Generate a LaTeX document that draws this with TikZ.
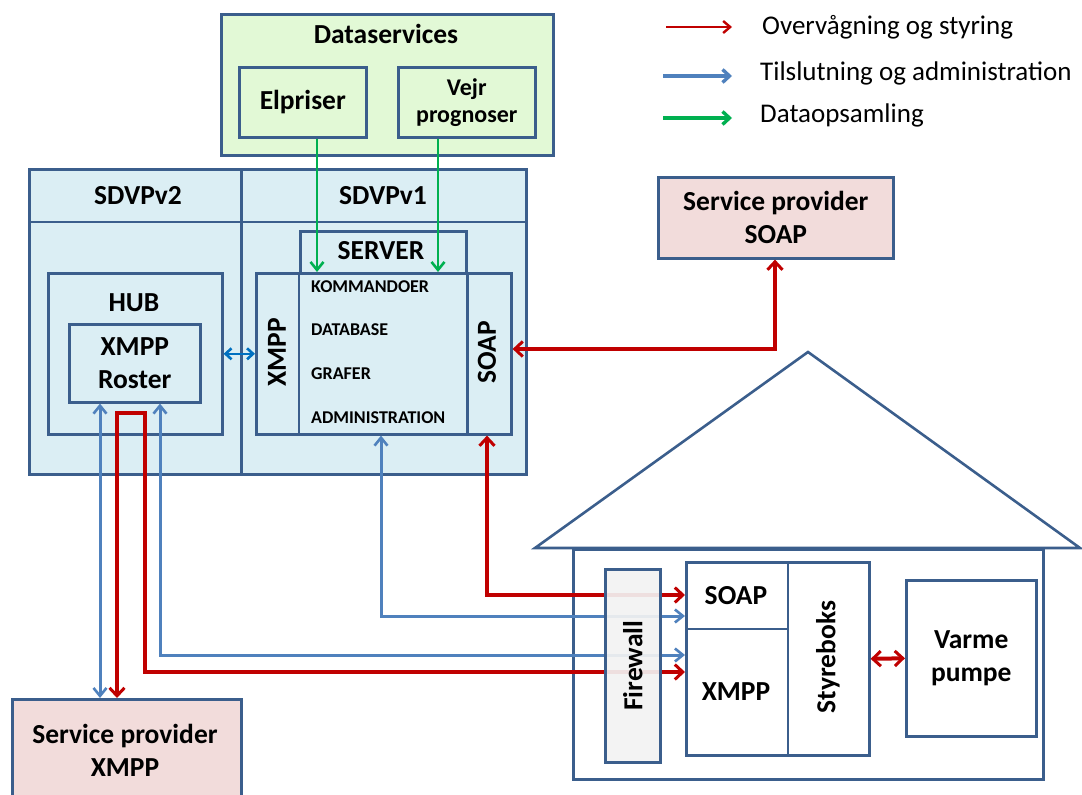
\documentclass[tikz,border=0pt]{standalone}
\usepackage{fontspec}
\setmainfont{Carlito}
\usetikzlibrary{arrows.meta,calc}
\definecolor{bordc}{RGB}{59,94,140}
\definecolor{lblue}{RGB}{219,238,244}
\definecolor{lgreen}{RGB}{226,249,214}
\definecolor{lpink}{RGB}{242,220,219}
\definecolor{lgray}{RGB}{242,242,242}
\definecolor{cred}{RGB}{192,0,0}
\definecolor{cblue}{RGB}{79,129,189}
\definecolor{cdblue}{RGB}{0,112,192}
\definecolor{cgreen}{RGB}{0,176,80}
\tikzset{
  box/.style={draw=bordc, line width=2.6pt, inner sep=0pt, anchor=north west},
  bline/.style={draw=bordc, line width=2.6pt},
  hd/.style={font=\bfseries\fontsize{27.5}{33}\selectfont, align=center, inner sep=0pt},
  item/.style={font=\bfseries\fontsize{18}{20}\selectfont, anchor=west, inner sep=0pt},
  leg/.style={font=\fontsize{27}{30}\selectfont, anchor=west, inner sep=0pt},
  tipR/.tip={Straight Barb[length=8pt,width=15pt,line width=3pt]},
  tipB/.tip={Straight Barb[length=8pt,width=13pt,line width=2.6pt]},
  redc/.style={draw=cred, line width=4pt, tipR-tipR},
  bluec/.style={draw=cblue, line width=3pt, tipB-tipB},
  greenc/.style={draw=cgreen, line width=2.8pt, -tipB},
}
\begin{document}
\begin{tikzpicture}[x=1pt,y=-1pt]
\useasboundingbox (0,0) rectangle (1082,795);
% Dataservices
\node[box, fill=lgreen, minimum width=332pt, minimum height=141pt] (ds) at (220,13) {};
\node[hd] (dst) at (386,34) {Dataservices};
\node[box, minimum width=127pt, minimum height=70pt] (elp) at (238,66) {};
\node[hd] at (elp.center) {Elpriser};
\node[box, minimum width=137pt, minimum height=70pt] (vejr) at (397,66) {};
\node[hd, font=\bfseries\fontsize{24}{27}\selectfont] at (vejr.center) {Vejr\\prognoser};
% SDVP
\node[box, fill=lblue, minimum width=212pt, minimum height=305pt] (v2) at (28,168) {};
\node[box, fill=lblue, minimum width=285pt, minimum height=305pt] (v1) at (240,168) {};
\draw[bline] (v2.north west) ++(0,54) -- ++(497,0);
\node[hd] (v2t) at (138,196) {SDVPv2};
\node[hd] (v1t) at (383,196) {SDVPv1};
\node[box, minimum width=166pt, minimum height=42pt] (server) at (299,230) {};
\node[hd] at (381,251) {SERVER};
\node[box, minimum width=255pt, minimum height=161pt] (main) at (255,272) {};
\draw[bline] (server.south west) -- (server.south west |- main.south);
\draw[bline] (server.south east) -- (server.south east |- main.south);
\node[hd, rotate=90] (xc) at (277,352) {XMPP};
\node[hd, rotate=90] (sc) at (487,352) {SOAP};
\node[item] (k1) at (311,287) {KOMMANDOER};
\node[item] (k2) at (311,330) {DATABASE};
\node[item] (k3) at (311,374) {GRAFER};
\node[item] (k4) at (311,418) {ADMINISTRATION};
\node[box, minimum width=174pt, minimum height=161pt] (hub) at (47,272) {};
\node[hd] at (134,303) {HUB};
\node[box, minimum width=131pt, minimum height=78pt] (roster) at (68,323) {};
\node[hd] at (roster.center) {XMPP\\Roster};
% service providers
\node[box, fill=lpink, minimum width=235pt, minimum height=81pt] (spsoap) at (657,176) {};
\node[hd] at (spsoap.center) {Service provider\\SOAP};
\node[box, fill=lpink, minimum width=229pt, minimum height=110pt] (spxmpp) at (11,698) {};
\node[hd] at (125,750) {Service provider\\XMPP};
% house
\draw[bline, line join=miter] (535,548) -- (808,352) -- (1080,548) -- cycle;
\node[box, fill=white, minimum width=470pt, minimum height=230pt] (house) at (572,548) {};
\node[box, minimum width=183pt, minimum height=193pt] (styr) at (685,561) {};
\draw[bline] (788,561) -- (788,754);
\draw[bline] (685,629) -- (788,629);
\node[hd] at (736,596) {SOAP};
\node[hd] at (736,692) {XMPP};
\node[hd, rotate=90] at (828,657) {Styreboks};
\node[box, minimum width=130pt, minimum height=156pt] (varme) at (905,579) {};
\node[hd] at (varme.center) {Varme\\pumpe};
% connectors
\coordinate (g1) at (317,0);
\coordinate (g2) at (438,0);
\draw[greenc] (elp.south -| g1) -- (main.north -| g1);
\draw[greenc] (vejr.south -| g2) -- (main.north -| g2);
\draw[draw=cdblue, line width=2.6pt, {Straight Barb[length=6pt,width=11pt]}-{Straight Barb[length=6pt,width=11pt]}] (hub.east) -- (main.west);
\coordinate (rs) at (775,349);
\draw[redc] (main.east |- rs) -- (rs) -- (spsoap.south -| rs);
\coordinate (b1) at (100,0);
\draw[bluec] (roster.south -| b1) -- (spxmpp.north -| b1);
\coordinate (r1) at (117,413);
\coordinate (r2) at (145,672);
\draw[redc, line join=miter] (spxmpp.north -| r1) -- (r1) -- (r1 -| r2) -- (r2) -- (styr.west |- r2);
\coordinate (b2) at (160,655);
\draw[bluec] (roster.south -| b2) -- (b2) -- (styr.west |- b2);
\coordinate (b3) at (381,616);
\draw[bluec] (main.south -| b3) -- (b3) -- (styr.west |- b3);
\coordinate (r3) at (487,595);
\draw[redc] (main.south -| r3) -- (r3) -- (styr.west |- r3);
\draw[redc] (styr.east) -- (varme.west);
% firewall on top
\node[box, fill=lgray, fill opacity=0.92, draw opacity=1, minimum width=55pt, minimum height=193pt] (fw) at (604,568) {};
\node[hd, rotate=90] at (fw.center) {Firewall};
% legend
\coordinate (la1) at (666,27); \coordinate (la2) at (732,27);
\coordinate (lb1) at (663,76); \coordinate (lb2) at (732,76);
\coordinate (lc1) at (663,118); \coordinate (lc2) at (732,118);
\draw[draw=cred, line width=2.4pt, -{Straight Barb[length=7pt,width=12pt]}] (la1) -- (la2);
\draw[draw=cblue, line width=3.4pt, -{Straight Barb[length=7pt,width=13pt]}] (lb1) -- (lb2);
\draw[draw=cgreen, line width=3.4pt, -{Straight Barb[length=7pt,width=13pt]}] (lc1) -- (lc2);
\node[leg] (l1) at (762,27) {Overvågning og styring};
\node[leg] (l2) at (760,73) {Tilslutning og administration};
\node[leg] (l3) at (760,115) {Dataopsamling};
\end{tikzpicture}
\end{document}
